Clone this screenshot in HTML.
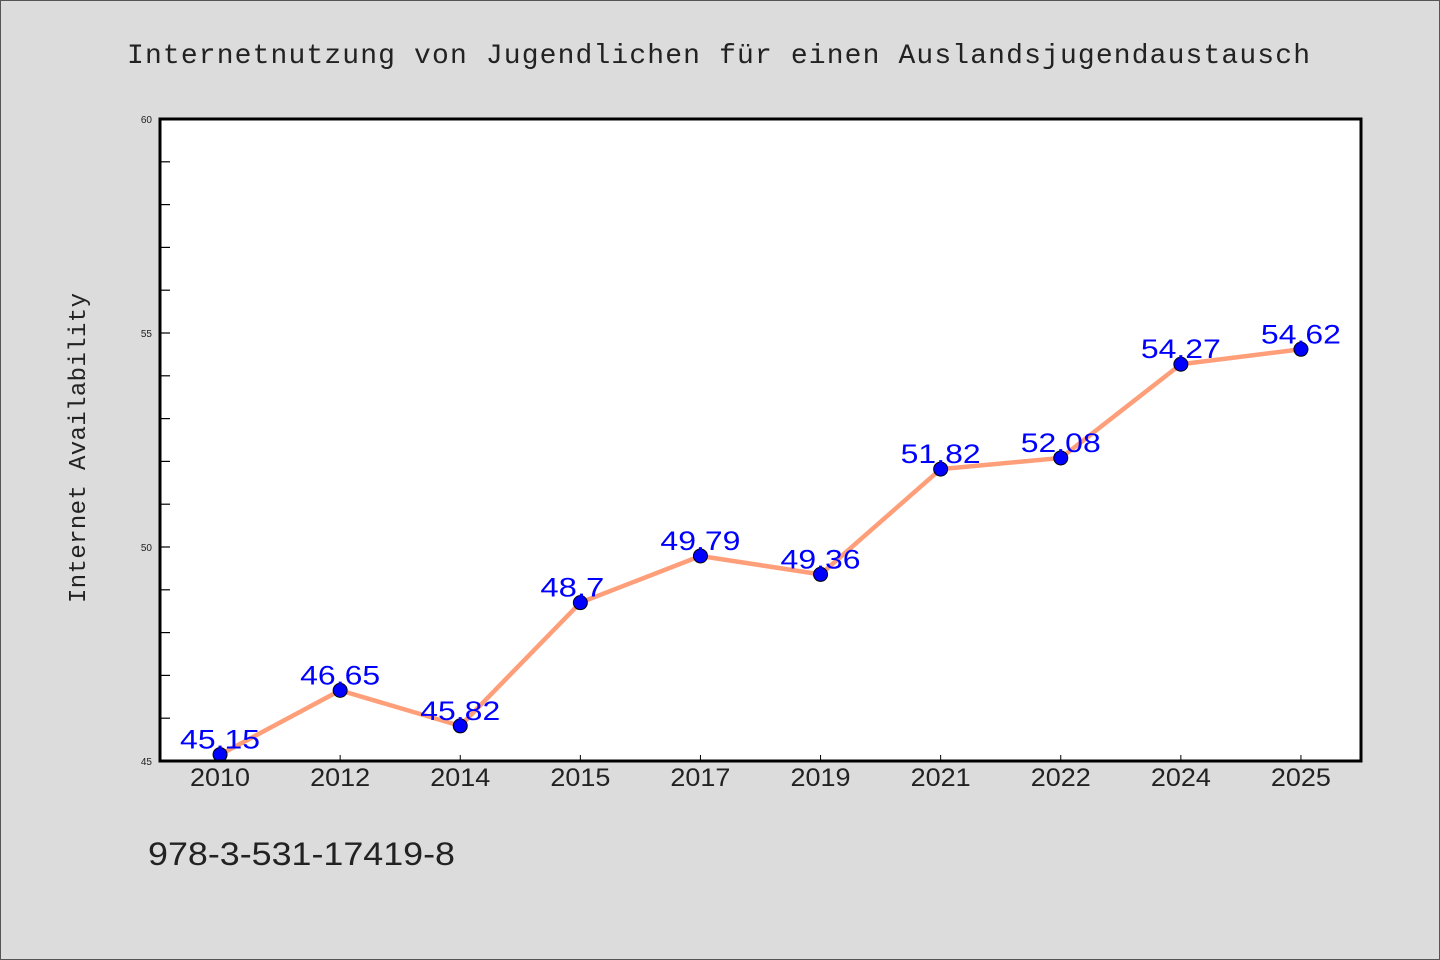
<!DOCTYPE html>
<html><head><meta charset="utf-8"><style>
html,body{margin:0;padding:0;background:#dcdcdc}
svg{display:block}
text{font-family:"WenQuanYi Zen Hei Mono","Liberation Mono",monospace}
.s{font-family:"Liberation Sans",sans-serif}
</style></head><body>
<svg width="1440" height="960">
<rect x="0.5" y="0.5" width="1439" height="959" fill="#dcdcdc" stroke="#555"/>
<text x="127" y="63" font-size="28" textLength="1183" lengthAdjust="spacing" fill="#222">Internetnutzung von Jugendlichen für einen Auslandsjugendaustausch</text>
<rect x="160" y="119" width="1201" height="642" fill="#fff"/>
<g id="axes"></g>
<g id="marks"></g>
<rect x="160" y="119" width="1201" height="642" fill="none" stroke="#000" stroke-width="3"/>
<text x="85" y="603" font-size="24" textLength="310" lengthAdjust="spacing" fill="#222" transform="rotate(-90 85 603)">Internet Availability</text>
<text x="148" y="865" font-size="32" textLength="307" lengthAdjust="spacingAndGlyphs" fill="#222" class="s">978-3-531-17419-8</text>
</svg>
<script>
const categories=["2010","2012","2014","2015","2017","2019","2021","2022","2024","2025"];
const values=[45.15,46.65,45.82,48.7,49.79,49.36,51.82,52.08,54.27,54.62];
const labels=["45.15","46.65","45.82","48.7","49.79","49.36","51.82","52.08","54.27","54.62"];
const yTicks=[45,50,55,60];
const NS="http://www.w3.org/2000/svg";
const L=160,R=1361,T=119,B=761,ymin=45,ymax=60;
const band=(R-L)/categories.length;
const xs=i=>L+band*(i+0.5);
const ys=v=>B-(v-ymin)/(ymax-ymin)*(B-T);
function mk(tag,attrs,parent){const e=document.createElementNS(NS,tag);for(const k in attrs)e.setAttribute(k,attrs[k]);parent.appendChild(e);return e;}
const ax=document.getElementById('axes'),mg=document.getElementById('marks');
for(let v=ymin;v<=ymax;v++){
  const t=mk('line',{x1:L,x2:L+10,y1:ys(v),y2:ys(v),stroke:'#000','stroke-width':1.2},ax);
  
  
}
yTicks.forEach(v=>{
  const t=mk('text',{x:L-8,y:ys(v)+4,'font-size':10,'text-anchor':'end',fill:'#222',class:'s'},ax);
  t.textContent=v;
  
  
});
categories.forEach((c,i)=>{
  const t=mk('line',{x1:xs(i),x2:xs(i),y1:B,y2:B-6,stroke:'#000','stroke-width':1},ax);
  
  
  const l=mk('text',{x:xs(i)-30,y:B+25,'font-size':25,textLength:60,lengthAdjust:'spacingAndGlyphs',fill:'#222',class:'s'},ax);
  l.textContent=c;
  
  
});
const line=mk('polyline',{points:values.map((v,i)=>xs(i)+','+ys(v)).join(' '),fill:'none',stroke:'#ff9f7a','stroke-width':4.5,'stroke-linejoin':'round'},mg);


values.forEach((v,i)=>{
  const p=mk('circle',{cx:xs(i),cy:ys(v),r:7,fill:'#0000ff',stroke:'#000','stroke-width':1},mg);
  
  
  const w=labels[i].length*16;
  const t=mk('text',{x:xs(i)-40,y:ys(v)-6,'font-size':27,textLength:w,lengthAdjust:'spacingAndGlyphs',fill:'#0000ff',class:'s'},mg);
  t.textContent=labels[i];
  
  
});
</script>
</body></html>
